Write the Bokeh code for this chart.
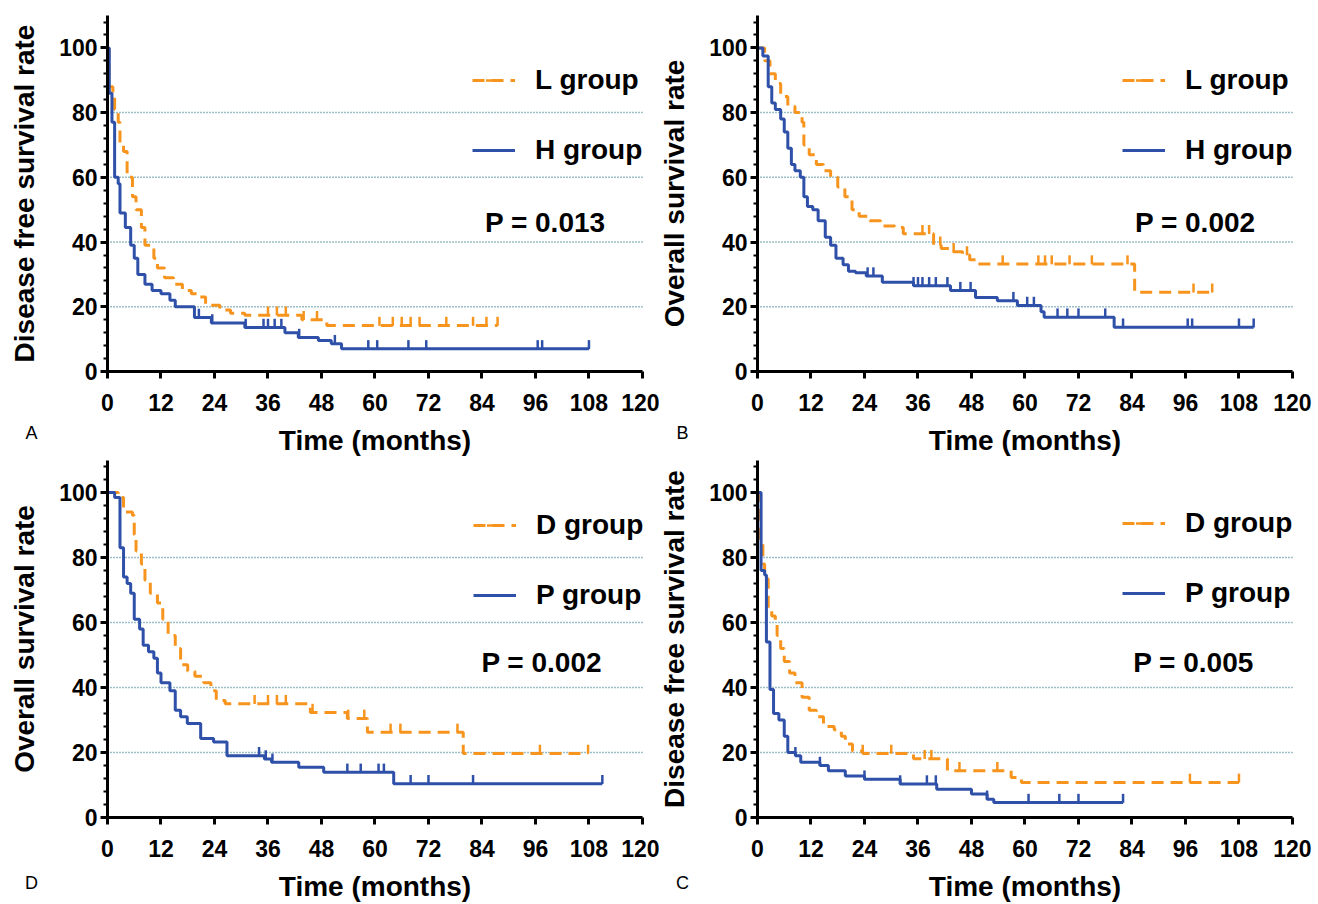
import numpy as np
from bokeh.plotting import figure
from bokeh.models import Range1d, FixedTicker, Legend, LegendItem, Label, LinearAxis, Grid
from bokeh.layouts import column, row
from bokeh.embed import file_html
from bokeh.resources import INLINE

# ---------------- data ----------------
x_ticks = [0, 12, 24, 36, 48, 60, 72, 84, 96, 108, 120]
y_ticks = [0, 20, 40, 60, 80, 100]
y_minor = [0, 4, 8, 12, 16, 20, 24, 28, 32, 36, 40, 44, 48, 52, 56, 60, 64, 68, 72, 76,
           80, 84, 88, 92, 96, 100, 104, 108]
grid_vals = [20, 40, 60, 80]

# Panel A : disease free survival, L vs H
A_L_t = [0, 0.3, 1.2, 1.6, 2.4, 2.8, 3.6, 4.4, 5.6, 6.4, 7.6, 8.4, 10.4, 11.2, 12.8, 14.8,
         16.8, 18.8, 20.4, 22, 25.2, 27.6, 30.8, 43.6, 49.2, 87.5]
A_L_s = [100, 88, 85, 81, 77, 70, 68, 60, 54, 50, 44.5, 39, 35, 32, 29, 27,
         25, 24, 23, 20.5, 19, 18, 17.4, 16, 14.2, 14.2]
A_L_c = [36, 38, 40, 44, 47, 61, 64, 66, 68, 70, 76, 82, 85, 87.5]
A_H_t = [0, 0.4, 1.0, 1.6, 2.4, 2.8, 4.0, 5.2, 6.0, 6.8, 8.4, 10, 12, 14, 15.2, 19.5,
         23.3, 30.8, 39.8, 42.8, 47.3, 50.2, 52.5, 108]
A_H_s = [100, 86, 77, 60, 58, 49, 44.5, 39, 35, 30, 27, 25, 24, 22, 20, 16.7,
         15, 13.6, 12, 10.5, 9.6, 8.6, 7.0, 7.0]
A_H_c = [20.5, 23.5, 31, 35, 36, 37.5, 39, 43, 51, 58.5, 60.5, 67.5, 71.5, 96.5, 97.5, 108]

# Panel B : overall survival, L vs H
B_L_t = [0, 1.6, 2.8, 4, 5.2, 6.8, 8.4, 10, 10.4, 11.6, 13.2, 14.8, 16.4, 18, 19.6, 21.2,
         22.8, 25.2, 27.6, 30.8, 32.7, 39.5, 41.2, 43.6, 46, 47.6, 49.3, 84.6, 102]
B_L_s = [100, 96, 92, 89, 85, 82, 80, 77, 70, 67, 64, 62, 60, 57, 54, 50,
         48, 46.6, 45, 44.5, 42.6, 39, 38, 37, 36, 34.5, 33.2, 24.5, 24.5]
B_L_c = [37, 38.5, 41, 44, 47, 55, 63, 64.5, 66, 70, 75, 83, 97.8, 102]
B_H_t = [0, 1.2, 2.4, 3.2, 4, 5.2, 6, 6.8, 7.6, 8.4, 9.6, 10.4, 11.2, 12.4, 13.6, 15.2,
         16.4, 17.6, 19.2, 20.4, 22, 24.4, 28, 35, 43.3, 48.9, 53.8, 58.3, 63.6, 64.3, 80, 111.3]
B_H_s = [100, 97.5, 88, 83, 81, 78, 74, 69, 64, 62, 60, 54, 51, 50, 46.6, 41.5,
         39, 35, 33, 31, 30.5, 29.5, 27.6, 26.5, 25, 22.9, 21.9, 20.4, 18.5, 16.8, 13.7, 13.7]
B_H_c = [24.7, 26, 35, 36, 37, 38.5, 40, 42.6, 45.5, 47.8, 57.4, 60.5, 62, 67.3, 69.5, 72,
         78, 82, 96.5, 97.5, 108, 111.3]

# Panel D : overall survival, D vs P
D_D_t = [0, 2.4, 3.6, 5.6, 6, 6.4, 7.6, 8.4, 9.6, 11.2, 12.4, 13.6, 15.2, 16.4, 18, 19.6,
         21.6, 23.2, 24.4, 26.4, 45.5, 53.8, 58.3, 79.8, 107.8]
D_D_s = [100, 98.5, 94, 93, 87, 82, 78, 73, 69, 66, 61, 56, 52, 47, 45, 43.5,
         41.5, 39, 36, 35, 32.3, 30.5, 26.2, 19.7, 19.7]
D_D_c = [33, 36, 38, 40, 46, 54, 57.6, 63.5, 65.7, 78.5, 97, 107.8]
D_P_t = [0, 1.6, 2.8, 3.6, 4.4, 5.2, 6, 7.2, 8, 9.2, 10.4, 11.2, 12, 14, 15.2, 16.4,
         17.9, 20.9, 23.8, 26.8, 35.2, 36.8, 42.9, 48.5, 64.2, 111]
D_P_s = [100, 98.5, 83, 74, 72, 69, 61, 58, 53, 51, 49, 44.5, 41.5, 39, 33, 31,
         28.9, 24.3, 23.2, 19, 18, 17, 15.5, 13.9, 10.4, 10.4]
D_P_c = [34, 35.5, 37, 53.8, 56.8, 60.8, 62, 68, 72, 82, 111]

# Panel C : disease free survival, D vs P
C_D_t = [0, 0.6, 1.2, 1.6, 2.4, 3.2, 4, 4.4, 5.2, 6, 7.2, 8.4, 10, 11.6, 13.2, 14.8,
         17.2, 18.8, 19.7, 21.3, 23.6, 35, 42.6, 56.9, 59.2, 108]
C_D_s = [100, 85, 78, 73.5, 65, 62, 60, 56, 52, 48, 44.5, 41.5, 37, 33, 31, 28,
         27, 25, 22.6, 20.5, 19.7, 18.1, 14.4, 12.3, 10.8, 10.8]
C_D_c = [23.6, 30, 37.5, 39, 45.3, 53.8, 97, 108]
C_P_t = [0, 0.8, 1.6, 2, 2.8, 3.6, 4.8, 6, 6.8, 8.5, 9.7, 14, 15.9, 19.7, 24, 32,
         40.2, 48, 51.5, 53, 82]
C_P_s = [100, 76, 74.6, 54, 39.4, 32, 30, 25, 20, 19, 17, 16, 14.4, 12.8, 11.8, 10.3,
         8.7, 7.2, 5.6, 4.6, 4.6]
C_P_c = [8.5, 14, 24, 32, 38, 40, 51.5, 60.8, 67.7, 72, 82]

# ---------------- styling ----------------
ORANGE = "#F7941D"
BLUE = "#2E50A8"
GRID = "#3A7F8E"
FONT = "Liberation Sans"
XMAX = 120
YMAX = 110


def surv_at(t, s, c):
    t = np.asarray(t, dtype=float)
    s = np.asarray(s, dtype=float)
    idx = np.searchsorted(t, np.asarray(c, dtype=float), side="right") - 1
    return s[np.clip(idx, 0, len(s) - 1)]


def style_axis(ax):
    ax.axis_line_width = 3
    ax.axis_line_color = "black"
    ax.major_tick_line_width = 3
    ax.major_tick_line_color = "black"
    ax.major_tick_in = 0
    ax.major_tick_out = 7
    ax.minor_tick_in = 0
    ax.minor_tick_out = 4
    ax.minor_tick_line_width = 2
    ax.minor_tick_line_color = "black"
    ax.major_label_text_font = FONT
    ax.major_label_text_font_style = "bold"
    ax.major_label_text_font_size = "23px"
    ax.major_label_text_color = "black"
    ax.axis_label_text_font = FONT
    ax.axis_label_text_font_style = "bold"
    ax.axis_label_text_font_size = "28px"
    ax.axis_label_text_color = "black"


def make_panel(cfg):
    W, H = 659, cfg["height"]
    ox, oy = cfg["ox"], cfg["oy"]          # pixel position of the origin inside the figure
    kx, ky = cfg["kx"], cfg["ky"]          # pixels per data unit
    x_range = Range1d(-ox / kx, (W - ox) / kx)
    y_range = Range1d(-(H - oy) / ky, oy / ky)
    p = figure(width=W, height=H, x_range=x_range, y_range=y_range,
               x_axis_location=None, y_axis_location=None,
               output_backend="svg", toolbar_location=None, min_border=0)
    # drop any default grid, the dotted gridlines are drawn below
    p.center = [r for r in p.center if not isinstance(r, Grid)]
    p.outline_line_color = None
    p.background_fill_color = "white"
    p.border_fill_color = "white"

    # dotted horizontal gridlines
    p.segment(x0=[0] * len(grid_vals), x1=[XMAX] * len(grid_vals), y0=grid_vals, y1=grid_vals,
              line_color=GRID, line_dash="1 2", line_width=1.5)

    xa = LinearAxis(fixed_location=0, bounds=(0, XMAX),
                    ticker=FixedTicker(ticks=x_ticks, minor_ticks=[]))
    ya = LinearAxis(fixed_location=0, bounds=(0, YMAX),
                    ticker=FixedTicker(ticks=y_ticks, minor_ticks=y_minor))
    style_axis(xa)
    style_axis(ya)
    xa.axis_label = "Time (months)"
    xa.major_label_standoff = 15
    xa.axis_label_standoff = 11
    ya.axis_label = cfg["ylabel"]
    ya.major_label_standoff = 3
    ya.axis_label_standoff = 16
    p.add_layout(xa, "below")
    p.add_layout(ya, "left")

    items = []
    for (lab, t, s, c, color, dash) in cfg["series"]:
        r = p.step(t, s, mode="after", line_color=color, line_width=3, line_dash=dash)
        cy = surv_at(t, s, c) + 1.3
        m = p.scatter(c, cy, marker="dash", angle=np.pi / 2, size=9,
                      line_color=color, line_width=2.5)
        items.append(LegendItem(label=lab, renderers=[r, m]))

    leg = Legend(items=items, location=cfg["legend_loc"], glyph_width=43, glyph_height=40,
                 spacing=30, label_standoff=20, padding=0, margin=0,
                 border_line_color=None, background_fill_alpha=0,
                 label_text_font=FONT, label_text_font_style="bold",
                 label_text_font_size="28px", label_text_color="black")
    p.add_layout(leg)

    p.add_layout(Label(x=cfg["px"], y=cfg["py"], text=cfg["ptext"], text_align="center",
                       text_baseline="middle", text_font=FONT, text_font_style="bold",
                       text_font_size="28px", text_color="black"))
    p.add_layout(Label(x=cfg["lx"], y=cfg["ly"], x_units="screen", y_units="screen",
                       text=cfg["letter"], text_align="center", text_baseline="middle",
                       text_font=FONT, text_font_size="18px", text_color="black"))
    return p


pA = make_panel(dict(height=458, ox=107, oy=371, kx=4.458, ky=3.236,
                     ylabel="Disease free survival rate",
                     series=[("L group", A_L_t, A_L_s, A_L_c, ORANGE, "12 7"),
                             ("H group", A_H_t, A_H_s, A_H_c, BLUE, "solid")],
                     legend_loc=(472, 288), ptext="P = 0.013", px=98.2, py=46,
                     letter="A", lx=31, ly=26))
pB = make_panel(dict(height=458, ox=98, oy=371, kx=4.458, ky=3.236,
                     ylabel="Overall survival rate",
                     series=[("L group", B_L_t, B_L_s, B_L_c, ORANGE, "12 7"),
                             ("H group", B_H_t, B_H_s, B_H_c, BLUE, "solid")],
                     legend_loc=(463, 288), ptext="P = 0.002", px=98.2, py=46,
                     letter="B", lx=23, ly=26))
pD = make_panel(dict(height=446, ox=107, oy=359, kx=4.458, ky=3.25,
                     ylabel="Overall survival rate",
                     series=[("D group", D_D_t, D_D_s, D_D_c, ORANGE, "12 7"),
                             ("P group", D_P_t, D_P_s, D_P_c, BLUE, "solid")],
                     legend_loc=(473, 289), ptext="P = 0.002", px=97.4, py=47.7,
                     letter="D", lx=31, ly=22))
pC = make_panel(dict(height=446, ox=98, oy=359, kx=4.458, ky=3.25,
                     ylabel="Disease free survival rate",
                     series=[("D group", C_D_t, C_D_s, C_D_c, ORANGE, "12 7"),
                             ("P group", C_P_t, C_P_s, C_P_c, BLUE, "solid")],
                     legend_loc=(463, 291), ptext="P = 0.005", px=97.8, py=47.7,
                     letter="C", lx=23, ly=22))

layout = column(row(pA, pB), row(pD, pC))
open("out.html", "w").write(file_html(layout, INLINE))
